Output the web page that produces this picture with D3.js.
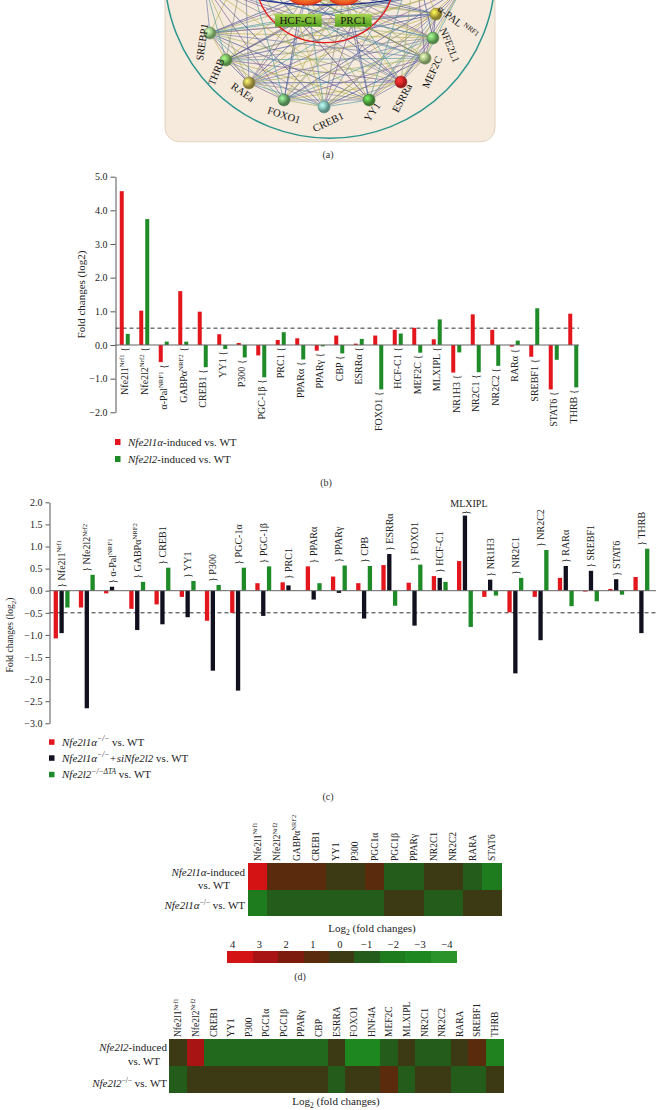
<!DOCTYPE html>
<html>
<head>
<meta charset="utf-8">
<script src="https://cdn.jsdelivr.net/npm/d3@7"></script>
<style>
  body { margin: 0; background: #fff; }
  svg { display: block; font-family: "Liberation Serif", "DejaVu Serif", serif; }
</style>
</head>
<body>
<svg id="fig" width="660" height="1110"></svg>
<script>
// ---- panel (b) data
const genesB = ["Nfe2l1^Nrf1","Nfe2l2^Nrf2","α-Pal^NRF1","GABPα^NRF2","CREB1","YY1","P300","PGC-1β","PRC1","PPARα","PPARγ","CBP","ESRRα","FOXO1","HCF-C1","MEF2C","MLXIPL","NR1H3","NR2C1","NR2C2","RARα","SREBF1","STAT6","THRB"];
const nfe2l1InducedB = [4.57,1.02,-0.51,1.6,0.99,0.32,0.06,-0.31,0.15,0.2,-0.17,0.28,0.04,0.28,0.45,0.51,0.17,-0.82,0.91,0.45,-0.05,-0.35,-1.32,0.93];
const nfe2l2InducedB = [0.33,3.74,0.1,0.1,-0.66,-0.12,-0.37,-0.96,0.38,-0.43,-0.04,-0.25,0.18,-1.32,0.34,-0.23,0.76,-0.22,-0.81,-0.62,0.13,1.09,-0.44,-1.26];
const ticksB = [5,4,3,2,1,0,-1,-2];
const thresholdB = 0.5;

// ---- panel (c) data
const genesC = ["Nfe2l1^Nrf1","Nfe2l2^Nrf2","α-Pal^NRF1","GABPα^NRF2","CREB1","YY1","P300","PGC-1α","PGC-1β","PRC1","PPARα","PPARγ","CPB","ESRRα","FOXO1","HCF-C1","MLXIPL","NR1H3","NR2C1","NR2C2","RARα","SREBF1","STAT6","THRB"];
const nfe2l1KoC = [-1.08,-0.38,-0.06,-0.41,-0.31,-0.14,-0.68,-0.5,0.17,0.19,0.55,0.32,0.17,0.58,0.18,0.33,0.67,-0.14,-0.49,-0.14,0.29,-0.02,0.04,0.31];
const nfe2l1KoSiC = [-0.96,-2.66,0.09,-0.89,-0.76,-0.6,-1.81,-2.26,-0.57,0.12,-0.2,-0.05,-0.63,0.83,-0.79,0.29,1.7,0.25,-1.87,-1.12,0.56,0.45,0.26,-0.96];
const nfe2l2KoC = [-0.38,0.36,0,0.2,0.52,0.22,0.13,0.52,0.55,0,0.17,0.57,0.56,-0.34,0.59,0.2,-0.82,-0.11,0.29,0.92,-0.35,-0.24,-0.09,0.95];
const ticksC = [2,1.5,1,0.5,0,-0.5,-1,-1.5,-2,-2.5,-3];
const thresholdC = -0.5;

// ---- panel (d) data
const genesD = ["Nfe2l1^Nrf1","Nfe2l2^Nrf2","GABPα^NRF2","CREB1","YY1","P300","PGC1α","PGC1β","PPARγ","NR2C1","NR2C2","RARA","STAT6"];
const nfe2l1InducedD = [4,1,1,1,0,0,1,-1,-1,0,0,-1,-2];
const nfe2l1KoD = [-2,-1,-1,-1,-1,-1,-1,0,0,-1,-1,0,0];

// ---- panel (e) data
const genesE = ["Nfe2l1^Nrf1","Nfe2l2^Nrf2","CREB1","YY1","P300","PGC1α","PGC1β","PPARγ","CBP","ESRRA","FOXO1","HNF4A","MEF2C","MLXIPL","NR2C1","NR2C2","RARA","SREBF1","THRB"];
const nfe2l2InducedE = [0,3,-1.4,-1.4,-1.4,-1.4,-1.4,-1.4,-1.4,0,-3,-3,-1,0,-1,-1,0,1,-2.5];
const nfe2l2KoE = [-1,0,0,0,0,0,0,0,0,-1,0,0,1,-1,0,0,-1,-1,0];

// colour bar
const cbarTicks = [4,3,2,1,0,-1,-2,-3,-4];
const cbarColors = ["#d41414","#a81414","#7d1c0e","#5a2b0c","#3b3a14","#245c1c","#1e7c1e","#1f871f","#2a932a"];

// ---- panel (a) network (polar positions around the hub)
const netNodes = [
  {id: "SREBP1", a: 153.8, r: 131.6, c: "#8fbf7a", dx: -8, dy: 9, rot: -82},
  {id: "THRB", a: 140.2, r: 132.8, c: "#72b35a", dx: -10, dy: 12, rot: -68},
  {id: "RAEa", a: 126.2, r: 133.8, c: "#b0a048", dx: -6, dy: 9, rot: 35},
  {id: "FOXO1", a: 109.4, r: 132.5, c: "#68a868", dx: 0, dy: 15, rot: 18},
  {id: "CREB1", a: 91.7, r: 132, c: "#7bbcb0", dx: 4, dy: 15, rot: -25},
  {id: "YY1", a: 71.8, r: 131.6, c: "#4e9e3e", dx: 3, dy: 12, rot: -55},
  {id: "ESRRa", a: 55.7, r: 129.5, c: "#d42424", dx: 1, dy: 16, rot: -62},
  {id: "MEF2C", a: 40.6, r: 127.8, c: "#9cbc7c", dx: 7, dy: 14, rot: -65},
  {id: "NFE2L1", a: 31, r: 122.4, c: "#6cb460", dx: 17, dy: 7, rot: 68},
  {id: "α-PAL^NRF1", a: 19.9, r: 114.8, c: "#b8a838", dx: 22, dy: 8, rot: 38}
];
const netHubs = [[298,20],[353,20],[306,-6],[344,-6],[205,-15],[245,-40],[415,-40],[462,-12]];
const edgeColors = ["#6a76a8","#b8b048","#7a5a98","#4a98a0","#8a8a8a","#3a4a98","#a0b060"];

const RED = "#e3161e", GREEN = "#1f8a28", BLACK = "#10101e";
const svg = d3.select("#fig");

// text helpers ------------------------------------------------
function addLabel(t, label, pre, post, fs) {
  const [base, sup] = label.split("^");
  if (pre) t.append("tspan").text(pre);
  t.append("tspan").text(base);
  if (sup) {
    t.append("tspan").attr("dy", -fs * 0.38).attr("font-size", fs * 0.68).text(sup);
    t.append("tspan").attr("dy", fs * 0.38).text(post || "");
  } else if (post) {
    t.append("tspan").text(post);
  }
}

function vLabel(g, x, y, label, anchor, pre, post, fs) {
  const t = g.append("text")
    .attr("transform", `translate(${x},${y}) rotate(-90)`)
    .attr("text-anchor", anchor)
    .attr("dy", "0.35em")
    .attr("font-size", fs)
    .attr("fill", "#222");
  addLabel(t, label, pre, post, fs);
  return t;
}

function parts(t, list, fs) {
  let up = false;
  list.forEach(p => {
    const s = t.append("tspan").text(p.t);
    if (p.i) s.attr("font-style", "italic");
    if (p.sup) {
      s.attr("font-size", fs * 0.68);
      if (!up) { s.attr("dy", -fs * 0.4); up = true; }
    } else if (up) {
      s.attr("dy", fs * 0.4); up = false;
    }
  });
}

function styleAxis(g) {
  g.attr("font-family", null).attr("font-size", 10);
  g.selectAll("path, line").attr("stroke", "#555");
  g.selectAll("text").attr("fill", "#222");
}

function caption(x, y, s) {
  svg.append("text").attr("x", x).attr("y", y).attr("text-anchor", "middle")
    .attr("font-size", 10).attr("fill", "#333").text(s);
}

// ---- panel (a) ----------------------------------------------
(function drawNetwork() {
  const defs = svg.append("defs");
  defs.append("clipPath").attr("id", "boxclip")
    .append("rect").attr("x", 165).attr("y", -20).attr("width", 330).attr("height", 161.7).attr("rx", 14);

  const g = svg.append("g");
  g.append("rect").attr("x", 165).attr("y", -20).attr("width", 330).attr("height", 161.7).attr("rx", 14)
    .attr("fill", "#f5eadc").attr("stroke", "#e3d2bf");

  const inner = g.append("g").attr("clip-path", "url(#boxclip)");
  const cx = 328, cy = -25;
  const pts = netNodes.map(n => {
    const rad = n.a * Math.PI / 180;
    return Object.assign({}, n, {x: cx + n.r * Math.cos(rad), y: cy + n.r * Math.sin(rad)});
  });
  const all = pts.map(p => [p.x, p.y]).concat(netHubs);

  const edges = [];
  for (let i = 0; i < all.length; i++)
    for (let j = i + 1; j < all.length; j++) edges.push([i, j]);
  inner.selectAll(".edge").data(edges).enter().append("line")
    .attr("x1", d => all[d[0]][0]).attr("y1", d => all[d[0]][1])
    .attr("x2", d => all[d[1]][0]).attr("y2", d => all[d[1]][1])
    .attr("stroke", d => edgeColors[(d[0] * 3 + d[1]) % edgeColors.length])
    .attr("stroke-width", 0.7).attr("opacity", 0.9);

  inner.append("ellipse").attr("cx", 325).attr("cy", -30).attr("rx", 125).attr("ry", 35)
    .attr("fill", "none").attr("stroke", "#1c2a88").attr("stroke-width", 1.3);
  inner.append("ellipse").attr("cx", 325).attr("cy", -20).attr("rx", 69).attr("ry", 62.7)
    .attr("fill", "none").attr("stroke", "#e01818").attr("stroke-width", 1.3);

  const og = defs.append("radialGradient").attr("id", "orangeg");
  og.append("stop").attr("offset", "0%").attr("stop-color", "#ffc040");
  og.append("stop").attr("offset", "100%").attr("stop-color", "#e4401a");
  [[306, 19], [344, 17]].forEach(o => {
    inner.append("ellipse").attr("cx", o[0]).attr("cy", -6).attr("rx", o[1]).attr("ry", 11)
      .attr("fill", "url(#orangeg)").attr("stroke", "#d83018");
  });

  const gg = defs.append("linearGradient").attr("id", "greeng").attr("x1", 0).attr("y1", 0).attr("x2", 0).attr("y2", 1);
  gg.append("stop").attr("offset", "0%").attr("stop-color", "#a6d650");
  gg.append("stop").attr("offset", "100%").attr("stop-color", "#4e9a1c");
  [["HCF-C1", 275, 46.7], ["PRC1", 335, 36.7]].forEach(b => {
    inner.append("rect").attr("x", b[1]).attr("y", 14).attr("width", b[2]).attr("height", 12.7)
      .attr("fill", "url(#greeng)");
    inner.append("text").attr("x", b[1] + b[2] / 2).attr("y", 24).attr("text-anchor", "middle")
      .attr("font-size", 11).attr("fill", "#111").text(b[0]);
  });

  pts.forEach((p, i) => {
    const rg = defs.append("radialGradient").attr("id", "ng" + i).attr("cx", "35%").attr("cy", "35%");
    rg.append("stop").attr("offset", "0%").attr("stop-color", d3.color(p.c).brighter(1.3));
    rg.append("stop").attr("offset", "70%").attr("stop-color", p.c);
    rg.append("stop").attr("offset", "100%").attr("stop-color", d3.color(p.c).darker(0.8));
    inner.append("circle").attr("cx", p.x).attr("cy", p.y).attr("r", 6)
      .attr("fill", `url(#ng${i})`).attr("stroke", d3.color(p.c).darker(1)).attr("stroke-width", 0.5);
    const t = inner.append("text")
      .attr("transform", `translate(${p.x + p.dx},${p.y + p.dy}) rotate(${p.rot})`)
      .attr("text-anchor", "middle").attr("dy", "0.35em").attr("font-size", 10.5).attr("fill", "#111");
    addLabel(t, p.id.replace("^", " ^"), null, null, 10.5);
  });

  inner.append("circle").attr("cx", 330).attr("cy", -27).attr("r", 165.2)
    .attr("fill", "none").attr("stroke", "#2a968e").attr("stroke-width", 1.5);

  caption(328, 158, "(a)");
})();

// ---- panel (b) ----------------------------------------------
(function drawB() {
  const g = svg.append("g");
  const x = d3.scaleBand().domain(genesB).range([115, 583]);
  const y = d3.scaleLinear().domain([-2, 5]).range([412.3, 176.7]);
  const bw = 4, off = 3;

  g.append("line").attr("x1", 115.5).attr("x2", 579).attr("y1", y(thresholdB)).attr("y2", y(thresholdB))
    .attr("stroke", "#333").attr("stroke-dasharray", "4,3");

  const series = [[nfe2l1InducedB, RED, -off], [nfe2l2InducedB, GREEN, off]];
  series.forEach(([vals, col, dx]) => {
    g.selectAll(null).data(vals).enter().append("rect")
      .attr("x", (d, i) => x(genesB[i]) + x.bandwidth() / 2 + dx - bw / 2)
      .attr("y", d => y(Math.max(0, d)))
      .attr("width", bw)
      .attr("height", d => Math.abs(y(d) - y(0)))
      .attr("fill", col);
  });

  g.append("line").attr("x1", 115.5).attr("x2", 579).attr("y1", y(0)).attr("y2", y(0))
    .attr("stroke", "#666");

  const ax = g.append("g").attr("transform", "translate(115.5,0)")
    .call(d3.axisLeft(y).tickValues(ticksB).tickFormat(d3.format(".1f")).tickSize(5).tickSizeOuter(0).tickPadding(3));
  styleAxis(ax);

  genesB.forEach((name, i) => {
    const lo = Math.min(0, nfe2l1InducedB[i], nfe2l2InducedB[i]);
    vLabel(g, x(name) + x.bandwidth() / 2, y(lo) + 2, name, "end", null, " {", 10);
  });

  g.append("text").attr("transform", "translate(85,294.5) rotate(-90)").attr("text-anchor", "middle")
    .attr("font-size", 11).attr("fill", "#222").text("Fold changes (log2)");

  const leg = [
    {c: RED, y: 442, p: [{t: "Nfe2l1α", i: true}, {t: "-induced vs. WT"}]},
    {c: GREEN, y: 459, p: [{t: "Nfe2l2", i: true}, {t: "-induced vs. WT"}]}
  ];
  leg.forEach(l => {
    g.append("rect").attr("x", 115).attr("y", l.y - 3).attr("width", 5.5).attr("height", 6).attr("fill", l.c);
    const t = g.append("text").attr("x", 128).attr("y", l.y + 3.8).attr("font-size", 11).attr("fill", "#222");
    parts(t, l.p, 11);
  });

  caption(326, 486, "(b)");
})();

// ---- panel (c) ----------------------------------------------
(function drawC() {
  const g = svg.append("g");
  const x = d3.scaleBand().domain(genesC).range([49, 654]);
  const y = d3.scaleLinear().domain([-3, 2]).range([723.3, 502.3]);
  const bw = 4.3, off = 5.8;

  g.append("line").attr("x1", 49.5).attr("x2", 656).attr("y1", y(thresholdC)).attr("y2", y(thresholdC))
    .attr("stroke", "#333").attr("stroke-dasharray", "4,3");

  const series = [[nfe2l1KoC, RED, -off], [nfe2l1KoSiC, BLACK, 0], [nfe2l2KoC, GREEN, off]];
  series.forEach(([vals, col, dx]) => {
    g.selectAll(null).data(vals).enter().append("rect")
      .attr("x", (d, i) => x(genesC[i]) + x.bandwidth() / 2 + dx - bw / 2)
      .attr("y", d => y(Math.max(0, d)))
      .attr("width", bw)
      .attr("height", d => Math.abs(y(d) - y(0)))
      .attr("fill", col);
  });

  g.append("line").attr("x1", 49.5).attr("x2", 656).attr("y1", y(0)).attr("y2", y(0))
    .attr("stroke", "#666");

  const ax = g.append("g").attr("transform", "translate(49.5,0)")
    .call(d3.axisLeft(y).tickValues(ticksC).tickFormat(d3.format(".1f")).tickSize(4).tickSizeOuter(0).tickPadding(3));
  styleAxis(ax);

  genesC.forEach((name, i) => {
    const hi = Math.max(0, nfe2l1KoC[i], nfe2l1KoSiC[i], nfe2l2KoC[i]);
    const cx = x(name) + x.bandwidth() / 2;
    if (name === "MLXIPL") {
      g.append("text").attr("x", cx + 4).attr("y", y(hi) - 9).attr("text-anchor", "middle")
        .attr("font-size", 10).attr("fill", "#222").text(name);
      g.append("text").attr("transform", `translate(${cx + 1},${y(hi) - 3}) rotate(-90)`)
        .attr("text-anchor", "middle").attr("dy", "0.35em").attr("font-size", 10).attr("fill", "#222").text("}");
    } else {
      vLabel(g, cx, y(hi) - 3, name, "start", "} ", null, 10);
    }
  });

  const tt = g.append("text").attr("transform", "translate(10,635) rotate(-90)").attr("text-anchor", "middle")
    .attr("dy", "0.35em").attr("font-size", 9.5).attr("fill", "#222");
  tt.append("tspan").text("Fold changes (log");
  tt.append("tspan").attr("dy", 2.5).attr("font-size", 7).text("2");
  tt.append("tspan").attr("dy", -2.5).text(")");

  const leg = [
    {c: RED, y: 742, p: [{t: "Nfe2l1α", i: true}, {t: "−/−", sup: true, i: true}, {t: " vs. WT"}]},
    {c: BLACK, y: 758, p: [{t: "Nfe2l1α", i: true}, {t: "−/−", sup: true, i: true}, {t: "+siNfe2l2", i: true}, {t: " vs. WT"}]},
    {c: GREEN, y: 774.5, p: [{t: "Nfe2l2", i: true}, {t: "−/−ΔTA", sup: true, i: true}, {t: " vs. WT"}]}
  ];
  leg.forEach(l => {
    g.append("rect").attr("x", 49).attr("y", l.y - 2.7).attr("width", 5.5).attr("height", 5.5).attr("fill", l.c);
    const t = g.append("text").attr("x", 62).attr("y", l.y + 3.8).attr("font-size", 11).attr("fill", "#222");
    parts(t, l.p, 11);
  });

  caption(328, 800, "(c)");
})();

// ---- heatmaps -----------------------------------------------
const heatColor = d3.scaleLinear().domain(cbarTicks).range(cbarColors).clamp(true);

function heatmap(genes, rows, x0, x1, y0, y1, labelY) {
  const g = svg.append("g");
  const x = d3.scaleBand().domain(genes).range([x0, x1]);
  const y = d3.scaleBand().domain(d3.range(rows.length)).range([y0, y1]);
  rows.forEach((vals, r) => {
    g.selectAll(null).data(vals).enter().append("rect")
      .attr("x", (d, i) => x(genes[i]))
      .attr("y", y(r))
      .attr("width", x.bandwidth() + 0.6)
      .attr("height", y.bandwidth() + 0.6)
      .attr("shape-rendering", "crispEdges")
      .attr("fill", d => heatColor(d));
  });
  genes.forEach(name => {
    vLabel(g, x(name) + x.bandwidth() / 2, labelY, name, "start", null, null, 9.5);
  });
  return g;
}

function log2Title(g, x, y) {
  const t = g.append("text").attr("x", x).attr("y", y).attr("text-anchor", "middle")
    .attr("font-size", 11).attr("fill", "#222");
  t.append("tspan").text("Log");
  t.append("tspan").attr("dy", 2.5).attr("font-size", 7.5).text("2");
  t.append("tspan").attr("dy", -2.5).text(" (fold changes)");
}

(function drawD() {
  const g = heatmap(genesD, [nfe2l1InducedD, nfe2l1KoD], 247.7, 501.7, 863.3, 915.7, 861);
  let t = g.append("text").attr("x", 245).attr("y", 876).attr("text-anchor", "end").attr("font-size", 11).attr("fill", "#222");
  parts(t, [{t: "Nfe2l1α", i: true}, {t: "-induced"}], 11);
  g.append("text").attr("x", 214).attr("y", 889).attr("text-anchor", "middle").attr("font-size", 11).attr("fill", "#222").text("vs. WT");
  t = g.append("text").attr("x", 245).attr("y", 909).attr("text-anchor", "end").attr("font-size", 11).attr("fill", "#222");
  parts(t, [{t: "Nfe2l1α", i: true}, {t: "−/−", sup: true}, {t: " vs. WT"}], 11);
  log2Title(g, 372, 932);

  const cb = d3.scaleBand().domain(cbarTicks).range([227.3, 456]);
  const cl = d3.scalePoint().domain(cbarTicks).range([232.5, 447]);
  g.selectAll(null).data(cbarTicks).enter().append("rect")
    .attr("x", d => cb(d)).attr("y", 950.7).attr("width", cb.bandwidth() + 0.6).attr("height", 12)
    .attr("shape-rendering", "crispEdges")
    .attr("fill", d => heatColor(d));
  g.selectAll(null).data(cbarTicks).enter().append("text")
    .attr("x", d => cl(d)).attr("y", 947.5).attr("text-anchor", "middle")
    .attr("font-size", 10.5).attr("fill", "#222")
    .text(d => d3.format("d")(d));

  caption(300, 980, "(d)");
})();

(function drawE() {
  const g = heatmap(genesE, [nfe2l2InducedE, nfe2l2KoE], 169.3, 503.3, 1039.3, 1092.3, 1037);
  let t = g.append("text").attr("x", 167).attr("y", 1051).attr("text-anchor", "end").attr("font-size", 11).attr("fill", "#222");
  parts(t, [{t: "Nfe2l2", i: true}, {t: "-induced"}], 11);
  g.append("text").attr("x", 144).attr("y", 1064.5).attr("text-anchor", "middle").attr("font-size", 11).attr("fill", "#222").text("vs. WT");
  t = g.append("text").attr("x", 167).attr("y", 1087).attr("text-anchor", "end").attr("font-size", 11).attr("fill", "#222");
  parts(t, [{t: "Nfe2l2", i: true}, {t: "−/−", sup: true}, {t: " vs. WT"}], 11);
  log2Title(g, 336, 1105);
})();
</script>
</body>
</html>
